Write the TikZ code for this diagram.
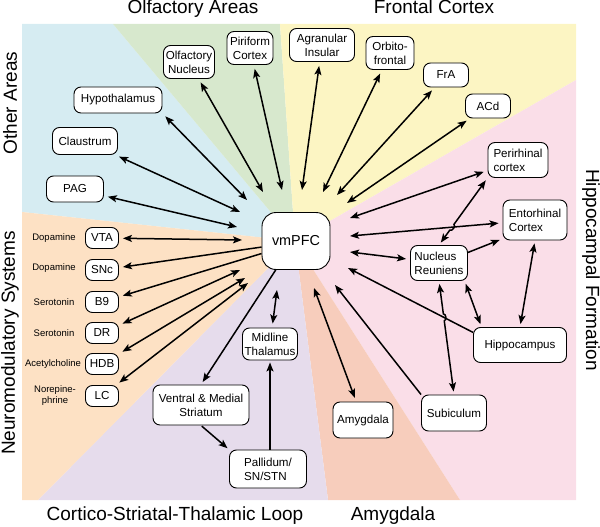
\documentclass[tikz,border=0pt]{standalone}
\usepackage{fontspec}
\setmainfont{Liberation Sans}
\usetikzlibrary{arrows.meta,calc,intersections}
\definecolor{areaBlue}{HTML}{D6ECF2}
\definecolor{areaGreen}{HTML}{D7E8CD}
\definecolor{areaYellow}{HTML}{FCF5C3}
\definecolor{areaPink}{HTML}{FADEE8}
\definecolor{areaSalmon}{HTML}{F7CDBC}
\definecolor{areaLilac}{HTML}{E6DCEC}
\definecolor{areaPeach}{HTML}{FDE1C4}

\begin{document}
\begin{tikzpicture}[x=1pt,y=-1pt,
	box/.style={draw,fill=white,rounded corners=7pt,line width=0.9pt,inner sep=0pt,align=center,font=\fontsize{11.6}{14}\selectfont},
	nm/.style={font=\fontsize{9.5}{11}\selectfont,align=center},
	area/.style={font=\fontsize{19}{22}\selectfont},
	link/.style={line width=1.5pt,>={Stealth[length=9pt,width=7pt,inset=2pt]}}]
	\useasboundingbox (0,0) rectangle (600,527);
	\coordinate (hub) at (295,241);
	\fill[areaBlue] (22,24) -- (113,24) -- (hub) -- (22,212) -- cycle;
	\fill[areaGreen] (113,24) -- (280,24) -- (hub) -- cycle;
	\fill[areaYellow] (280,24) -- (576,24) -- (576,80) -- (hub) -- cycle;
	\fill[areaPink] (576,80) -- (576,500) -- (460,500) -- (hub) -- cycle;
	\fill[areaSalmon] (460,500) -- (328,500) -- (hub) -- cycle;
	\fill[areaLilac] (328,500) -- (38,500) -- (hub) -- cycle;
	\fill[areaPeach] (22,212) -- (hub) -- (38,500) -- (22,500) -- cycle;

	\node[area,anchor=base] (tOlf) at (193,14) {Olfactory Areas};
	\node[area,anchor=base] (tFro) at (434,14) {Frontal Cortex};
	\node[area,rotate=90] (tOth) at (10,103) {Other Areas};
	\node[area,rotate=90] (tNeu) at (10,343) {Neuromodulatory Systems};
	\node[area,rotate=-90] (tHip) at (591,270) {Hippocampal Formation};
	\node[area,anchor=base] (tCst) at (175,520) {Cortico-Striatal-Thalamic Loop};
	\node[area,anchor=base] (tAmy) at (393,520) {Amygdala};

	\node[box,rounded corners=14pt,font=\fontsize{14.4}{16}\selectfont] (vm) at (296,241) [minimum width=68pt,minimum height=57pt] {vmPFC};
	\node[box] (hyp) at (118,100) [minimum width=88pt,minimum height=26pt] {Hypothalamus};
	\node[box] (clau) at (85,141) [minimum width=65pt,minimum height=27pt] {Claustrum};
	\node[box] (pag) at (75,189) [minimum width=57pt,minimum height=26pt] {PAG};
	\node[box] (olf) at (189,62) [minimum width=51pt,minimum height=33pt] {Olfactory\\Nucleus};
	\node[box] (pir) at (250,48) [minimum width=46pt,minimum height=33pt] {Piriform\\Cortex};
	\node[box] (agr) at (322,45) [minimum width=65pt,minimum height=33pt] {Agranular\\Insular};
	\node[box] (orb) at (390,53) [minimum width=48pt,minimum height=33pt] {Orbito-\\frontal};
	\node[box] (fra) at (446,75) [minimum width=45pt,minimum height=24pt] {FrA};
	\node[box] (acd) at (488,106) [minimum width=45pt,minimum height=24pt] {ACd};
	\node[box,align=left] (peri) at (518,160) [minimum width=60pt,minimum height=35pt] {Perirhinal\\cortex};
	\node[box,align=left] (ento) at (535,220) [minimum width=64pt,minimum height=40pt] {Entorhinal\\Cortex};
	\node[box,align=left] (nr) at (439,263) [minimum width=57pt,minimum height=35pt] {Nucleus\\Reuniens};
	\node[box] (hippo) at (520,345) [minimum width=93pt,minimum height=35pt] {Hippocampus};
	\node[box] (sub) at (454,413) [minimum width=65pt,minimum height=36pt] {Subiculum};
	\node[box] (amy) at (363,420) [minimum width=60pt,minimum height=36pt] {Amygdala};
	\node[box] (thal) at (270,344) [minimum width=55pt,minimum height=32pt] {Midline\\Thalamus};
	\node[box] (strm) at (201,405) [minimum width=96pt,minimum height=40pt] {Ventral \& Medial\\Striatum};
	\node[box,align=left] (pall) at (268,469) [minimum width=77pt,minimum height=38pt] {Pallidum/\\SN/STN};
	\node[box] (vta) at (102,238) [minimum width=33pt,minimum height=21pt] {VTA};
	\node[box] (snc) at (102,270) [minimum width=33pt,minimum height=21pt] {SNc};
	\node[box] (b9) at (102,302) [minimum width=33pt,minimum height=21pt] {B9};
	\node[box] (dr) at (102,333) [minimum width=33pt,minimum height=21pt] {DR};
	\node[box] (hdb) at (102,364) [minimum width=33pt,minimum height=21pt] {HDB};
	\node[box] (lc) at (102,396) [minimum width=33pt,minimum height=21pt] {LC};
	\node[nm] (nmVta) at (54,238) {Dopamine};
	\node[nm] (nmSnc) at (54,268) {Dopamine};
	\node[nm] (nmB9) at (54,302) {Serotonin};
	\node[nm] (nmDr) at (54,333) {Serotonin};
	\node[nm] (nmHdb) at (53,364) {Acetylcholine};
	\node[nm] (nmLc) at (55,396) {Norepine-\\phrine};

	\coordinate (hypIn) at (247,200);
	\coordinate (clauIn) at (240,212);
	\coordinate (pagIn) at (237,227);
	\coordinate (olfIn) at (263,192);
	\coordinate (pirIn) at (282,190);
	\coordinate (agrIn) at (302,190);
	\coordinate (orbIn) at (323,192);
	\coordinate (fraIn) at (337,195);
	\coordinate (acdIn) at (347,203);
	\coordinate (periIn) at (350,218);
	\coordinate (entoIn) at (350,236);
	\coordinate (nrIn) at (350,252);
	\coordinate (hipIn) at (348,268);
	\coordinate (subIn) at (335,285);
	\coordinate (amyIn) at (314,288);
	\coordinate (thIn) at (277,290);
	\coordinate (vtaIn) at (242,240);
	\coordinate (drIn) at (240,270);
	\coordinate (hdbIn) at (245,278);
	\coordinate (lcIn) at (248,283);

	\path[name path=entoLine] (ento) -- (entoIn);
	\path[name path=periLine] (peri.south west) -- (nr.north);
	\path[name path=hipLine] (hippo.165) -- (hipIn);
	\path[name path=subLine] (nr.south) -- (sub.north);
	\path[name intersections={of=entoLine and periLine,by=hopA}];
	\path[name intersections={of=hipLine and subLine,by=hopB}];

	\draw[link][<->,shorten <=4pt] (hyp.south east) to (hypIn);
	\draw[link][<->,shorten <=4pt] (clau) to (clauIn);
	\draw[link][<->,shorten <=4pt] (pag) to (pagIn);
	\draw[link][<->,shorten <=4pt] (olf) to (olfIn);
	\draw[link][<->,shorten <=4pt] (pir) to (pirIn);
	\draw[link][<->,shorten <=4pt] (agr) to (agrIn);
	\draw[link][<->,shorten <=4pt] (orb) to (orbIn);
	\draw[link][<->,shorten <=4pt] (fra) to (fraIn);
	\draw[link][<->,shorten <=4pt] (acd) to (acdIn);
	\draw[link][<->,shorten <=4pt] (peri) to (periIn);
	\draw[link][<->,shorten <=4pt] (ento) to (entoIn);
	\draw[link][<->,shorten <=4pt] (nr) to (nrIn);
	\draw[link][->] (hippo.165) to (hipIn);
	\draw[link][->] (sub.north west) to (subIn);
	\draw[link][<->,shorten <=4pt] (amy) to (amyIn);
	\draw[link][<->,shorten <=4pt] (thal) to (thIn);
	\draw[link][<->,shorten <=4pt] (vta) to (vtaIn);
	\draw[link][->,shorten >=4pt] (vm.190) to (snc);
	\draw[link][->,shorten >=4pt] (vm.200) to (b9);
	\draw[link][<->,shorten <=4pt] (dr) to (drIn);
	\draw[link][<->,shorten <=4pt] (hdb) to (hdbIn);
	\draw[link][<->,shorten <=4pt] (lc) to (lcIn);
	\draw[link][->,shorten >=3pt] (vm.235) to (strm.north);
	\draw[link][->,shorten <=1pt,shorten >=2pt] (strm.south) to (pall.north west);
	\draw[link][->,shorten >=2pt] (pall.north -| thal.south) to (thal.south);
	\draw[link][->,shorten >=3pt] (nr.20) to (ento.210);
	\draw[link][<->,shorten <=3pt,shorten >=3pt] (nr.-35) to (hippo.155);
	\draw[link][<->,shorten <=3pt,shorten >=3pt] (ento.south) to (hippo.north);
	\draw[link][<->,shorten <=3pt,shorten >=3pt] (peri.south west) -- ($(hopA)!3.5pt!(peri.south west)$) to[bend left=90] ($(hopA)!3.5pt!(nr.north)$) -- (nr.north);
	\draw[link][<->,shorten <=3pt,shorten >=3pt] (nr.south) -- ($(hopB)!3.5pt!(nr.south)$) to[bend left=90] ($(hopB)!3.5pt!(sub.north)$) -- (sub.north);
\end{tikzpicture}
\end{document}
